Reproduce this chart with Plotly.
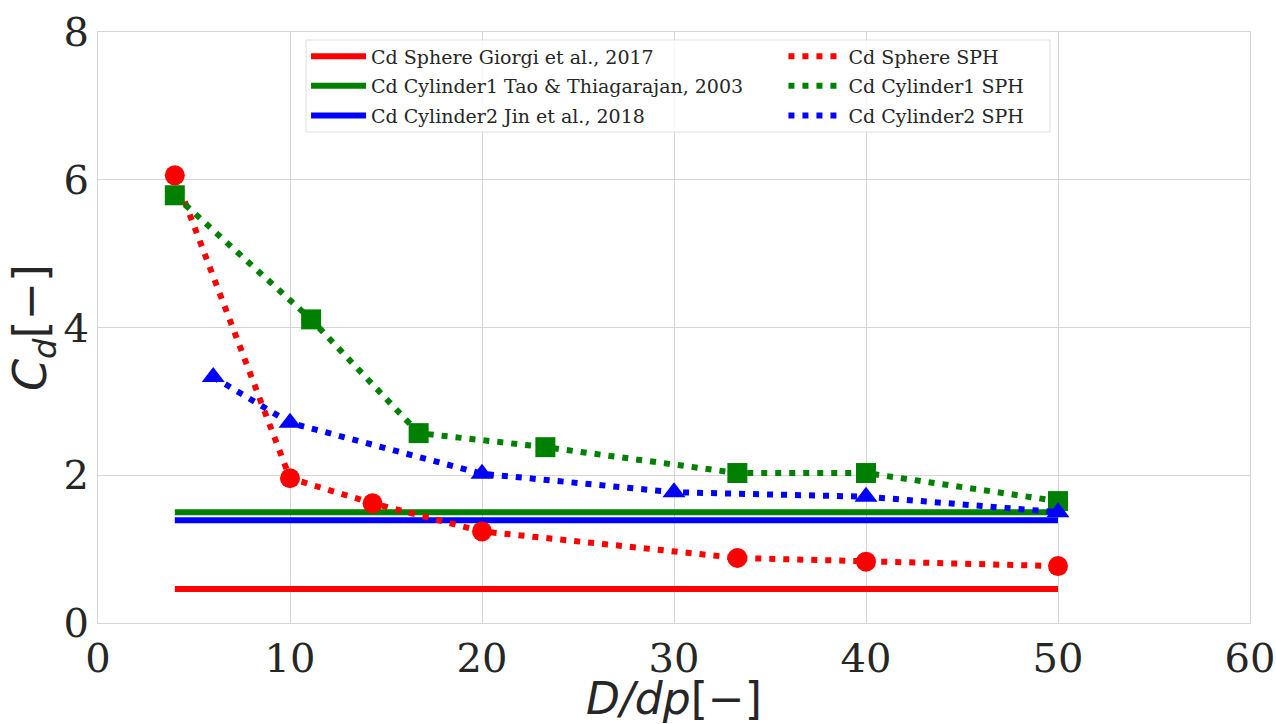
import plotly.graph_objects as go

# Reference (experimental) horizontal lines
ref_x = [4, 50]
sphere_ref = 0.46
cyl1_ref = 1.50
cyl2_ref = 1.39

# SPH results
sphere_x = [4, 10, 14.3, 20, 33.3, 40, 50]
sphere_y = [6.06, 1.96, 1.62, 1.24, 0.88, 0.83, 0.77]

cyl1_x = [4, 11.1, 16.7, 23.3, 33.3, 40, 50]
cyl1_y = [5.79, 4.11, 2.57, 2.38, 2.03, 2.03, 1.65]

cyl2_x = [6, 10, 20, 30, 40, 50]
cyl2_y = [3.33, 2.71, 2.02, 1.77, 1.71, 1.50]

x_ticks = [0, 10, 20, 30, 40, 50, 60]
y_ticks = [0, 2, 4, 6, 8]

RED, GREEN, BLUE = "#ff0000", "#008000", "#0000ff"
DOT = "6px,8px"
SERIF = "DejaVu Serif"
SANS = "DejaVu Sans"

fig = go.Figure()

# Legend entries: column 1 (solid), column 2 (dotted)
legend_items = [
    ("Cd Sphere Giorgi et al., 2017", RED, "solid", "legend"),
    ("Cd Cylinder1 Tao &amp; Thiagarajan, 2003", GREEN, "solid", "legend"),
    ("Cd Cylinder2 Jin et al., 2018", BLUE, "solid", "legend"),
    ("Cd Sphere SPH", RED, DOT, "legend2"),
    ("Cd Cylinder1 SPH", GREEN, DOT, "legend2"),
    ("Cd Cylinder2 SPH", BLUE, DOT, "legend2"),
]

# Solid reference lines
for val, col in [(sphere_ref, RED), (cyl1_ref, GREEN), (cyl2_ref, BLUE)]:
    fig.add_trace(go.Scatter(x=ref_x, y=[val, val], mode="lines",
                             line=dict(color=col, width=6), showlegend=False))

# SPH series
for xs, ys, col, sym in [(sphere_x, sphere_y, RED, "circle"),
                         (cyl1_x, cyl1_y, GREEN, "square"),
                         (cyl2_x, cyl2_y, BLUE, "triangle-up")]:
    fig.add_trace(go.Scatter(x=xs, y=ys, mode="lines+markers",
                             line=dict(color=col, width=6, dash=DOT),
                             marker=dict(symbol=sym, size=20, color=col),
                             showlegend=False))

# Legend entries
for i, (name, col, dash, lg) in enumerate(legend_items):
    fig.add_trace(go.Scatter(x=[None], y=[None], mode="lines", name=name,
                             legend=lg, legendgroup="g%d" % i,
                             line=dict(color=col, width=6, dash=dash)))

axis_common = dict(showgrid=True, gridcolor="#d5d5d5", gridwidth=1,
                   showline=True, linecolor="#d5d5d5", linewidth=1, mirror=True,
                   zeroline=False, ticks="", automargin=False,
                   tickfont=dict(family=SERIF, size=40, color="#262626"))

legend_common = dict(orientation="v", yanchor="top", xanchor="left",
                     font=dict(family=SERIF, size=19, color="#262626"),
                     bgcolor="rgba(0,0,0,0)", borderwidth=0,
                     itemwidth=55, tracegroupgap=2)

fig.update_layout(
    width=1276, height=724,
    margin=dict(l=98, r=26, t=32, b=101),
    paper_bgcolor="white", plot_bgcolor="white",
    font=dict(family=SERIF, color="#262626"),
    xaxis=dict(range=[0, 60], tickvals=x_ticks, **axis_common,
               title=dict(text="<i>D/dp</i>[\u2212]", font=dict(family=SANS, size=44),
                          standoff=2)),
    yaxis=dict(range=[0, 8], tickvals=y_ticks, **axis_common,
               title=dict(text="<i>C</i><sub><i>d</i></sub>[\u2212]",
                          font=dict(family=SANS, size=46), standoff=2)),
    legend=dict(x=0.1806, y=0.991, **legend_common),
    legend2=dict(x=0.595, y=0.991, **legend_common),
    shapes=[dict(type="rect", xref="paper", yref="paper",
                 x0=0.1806, x1=0.8264, y0=0.8308, y1=0.9865,
                 fillcolor="rgba(255,255,255,0.8)",
                 line=dict(color="#e0e0e0", width=1), layer="above")],
)

fig.write_html("out.html")
